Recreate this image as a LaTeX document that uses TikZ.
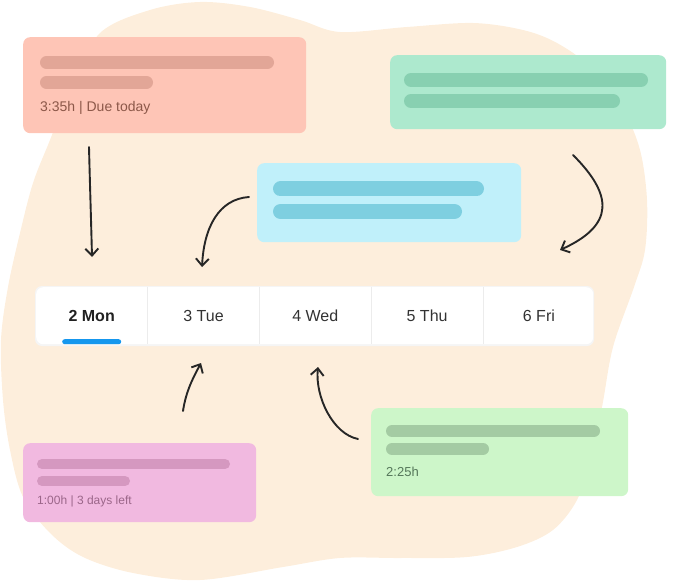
\documentclass[tikz,border=0pt]{standalone}
\usepackage{fontspec}
\setmainfont{Liberation Sans}
\usetikzlibrary{arrows.meta,positioning}
\definecolor{fblob}{HTML}{FDEEDC}
\definecolor{fink}{HTML}{262626}
\definecolor{fday}{HTML}{333333}
\definecolor{fline}{HTML}{ECECEC}
\definecolor{faccent}{HTML}{1597EE}
\definecolor{fred}{HTML}{FEC5B6}
\definecolor{fredbar}{HTML}{E2A697}
\definecolor{fredtext}{HTML}{8C5849}
\definecolor{fmint}{HTML}{ADE9CE}
\definecolor{fmintbar}{HTML}{88D0B1}
\definecolor{fsky}{HTML}{C0F0FA}
\definecolor{fskybar}{HTML}{7ECFE0}
\definecolor{fpink}{HTML}{F1B9E0}
\definecolor{fpinkbar}{HTML}{D598C0}
\definecolor{fpinktext}{HTML}{9B6689}
\definecolor{flime}{HTML}{CDF6C9}
\definecolor{flimebar}{HTML}{A4CBA3}
\definecolor{flimetext}{HTML}{55775A}
\tikzset{
  card/.style     = {rounded corners=7pt, inner sep=0pt, anchor=north west},
  bar/.style      = {line width=#1, line cap=round},
  cardtext/.style = {anchor=base west, inner sep=0pt},
  daycell/.style  = {minimum width=111.4pt, minimum height=57pt, inner sep=0pt,
                     text=fday, font=\fontsize{16}{19}\selectfont},
  sketch/.style   = {draw=fink, line width=1.9pt, line cap=round,
                     -{Straight Barb[length=7pt,width=13pt]}},
}
\begin{document}
\begin{tikzpicture}[x=1pt, y=-1pt]
\useasboundingbox (0,0) rectangle (676,585);
% ---------------- background blob ----------------
\fill[fblob] plot[smooth cycle, tension=0.55] coordinates {
  (100,33) (150,10) (200,2) (250,7) (300,20) (340,32) (407,27) (473,23)
  (523,30) (557,43) (590,67) (623,110) (640,150) (647,200) (645,250)
  (634,287) (613,347) (602,407) (590,460) (577,500) (553,530) (517,547)
  (467,557) (400,558) (340,558) (283,567) (200,580) (133,573) (83,557)
  (50,533) (23,497) (10,450) (3,400) (1,340) (8,287) (20,233) (33,183)
  (50,140) (72,85)};
% ---------------- day strip ----------------
\fill[black!4, rounded corners=7pt] (35,286) rectangle (594,346);
\node[card, fill=white, minimum width=557pt, minimum height=57pt] (strip) at (36,287) {};
\node[daycell, font=\fontsize{16}{19}\selectfont\bfseries, text=black!87] (mon) at (91.7,315.5) {2 Mon};
\node[daycell, right=0pt of mon] (tue) {3 Tue};
\node[daycell, right=0pt of tue] (wed) {4 Wed};
\node[daycell, right=0pt of wed] (thu) {5 Thu};
\node[daycell, right=0pt of thu] (fri) {6 Fri};
\foreach \d in {mon,tue,wed,thu}
  \draw[fline] (\d.north east) -- (\d.south east);
\fill[faccent, rounded corners=2.5pt] ([xshift=-29.5pt]mon.south) rectangle ([xshift=29.5pt,yshift=5pt]mon.south);
% ---------------- task cards ----------------
% red, top left
\node[card, fill=fred, minimum width=283pt, minimum height=96pt] (red) at (23,37) {};
\draw[bar=13pt, fredbar] (46.5,62.5) -- (267.5,62.5);
\draw[bar=13pt, fredbar] (46.5,82.5) -- (146.5,82.5);
\node[cardtext, text=fredtext, font=\fontsize{14}{16}\selectfont] (redtime) at (40,112) {3:35h | Due today};
% mint, top right
\node[card, fill=fmint, minimum width=276pt, minimum height=74pt] (mint) at (390,55) {};
\draw[bar=14pt, fmintbar] (411,80) -- (641,80);
\draw[bar=14pt, fmintbar] (411,101) -- (613,101);
% sky, middle
\node[card, fill=fsky, minimum width=264pt, minimum height=79pt] (sky) at (257,163) {};
\draw[bar=15pt, fskybar] (280.5,189) -- (476.5,189);
\draw[bar=15pt, fskybar] (280.5,211.5) -- (454.5,211.5);
% pink, bottom left
\node[card, fill=fpink, minimum width=233pt, minimum height=79pt] (pink) at (23,443) {};
\draw[bar=10pt, fpinkbar] (42,464) -- (225,464);
\draw[bar=10pt, fpinkbar] (42,481) -- (125,481);
\node[cardtext, text=fpinktext, font=\fontsize{12}{14}\selectfont] (pinktime) at (37,504) {1:00h | 3 days left};
% lime, bottom right
\node[card, fill=flime, minimum width=257pt, minimum height=88pt] (lime) at (371,408) {};
\draw[bar=12pt, flimebar] (392,431) -- (594,431);
\draw[bar=12pt, flimebar] (392,449) -- (483,449);
\node[cardtext, text=flimetext, font=\fontsize{13}{15}\selectfont] (limetime) at (386,476) {2:25h};
% ---------------- sketched arrows ----------------
\coordinate (redTail) at (89,147);   \coordinate (redTip) at (92,257);
\coordinate (skyTail) at (249,197);  \coordinate (skyTip) at (202,267);
\coordinate (mintTail) at (573,155); \coordinate (mintTip) at (560,250);
\coordinate (pinkTail) at (183,411); \coordinate (pinkTip) at (201,363);
\coordinate (limeTail) at (358,439); \coordinate (limeTip) at (318,367);
\draw[sketch] (redTail) .. controls +(1,40) and +(-1,-40) .. (redTip);
\draw[sketch] (skyTail) .. controls +(-30,2) and +(2,-40) .. (skyTip);
\draw[sketch] (mintTail) .. controls +(40,40) and +(55,-25) .. (mintTip);
\draw[sketch] (pinkTail) .. controls +(3,-20) and +(-8,15) .. (pinkTip);
\draw[sketch] (limeTail) .. controls +(-25,-5) and +(-3,30) .. (limeTip);
\end{tikzpicture}
\end{document}
